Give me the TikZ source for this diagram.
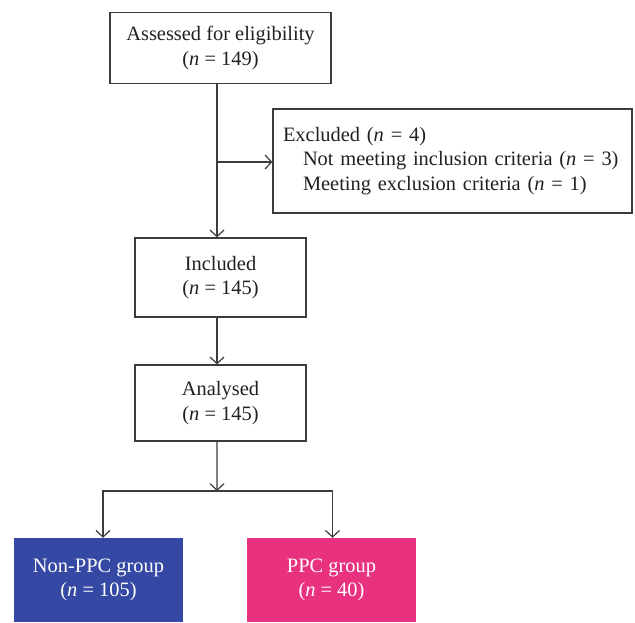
\documentclass[tikz,border=0pt]{standalone}
\usepackage{fontspec}
\setmainfont{Liberation Serif}
\usetikzlibrary{arrows.meta}
\definecolor{nonppc}{RGB}{53,72,163}
\definecolor{ppc}{RGB}{232,49,127}
\definecolor{linec}{RGB}{60,60,60}
\definecolor{textc}{RGB}{35,31,32}
\begin{document}
\begin{tikzpicture}[x=1bp,y=-1bp,
  every node/.style={font=\fontsize{20.5}{24.5}\selectfont, text=textc},
  box/.style={draw=linec, line width=1.2bp, inner sep=0pt, align=center},
  grp/.style={inner sep=0pt, align=center, text=white, minimum width=169bp, minimum height=84bp},
  arr/.style={draw=linec, line width=1.2bp, -{Straight Barb[length=6.5bp,width=14bp]}},
  ln/.style={draw=linec, line width=1.2bp}]
\useasboundingbox (0,0) rectangle (635,623);

\node[box, minimum width=221bp, minimum height=71bp] (assess) at (220.5,48)
  {Assessed for eligibility\\(\textit{n} = 149)};
\node[box, text width=339bp, inner xsep=10bp, minimum height=104bp, align=left] (excl) at (452.5,161)
  {Excluded (\textit{n} = 4)\\\hspace*{20bp}Not meeting inclusion criteria (\textit{n} = 3)\\\hspace*{20bp}Meeting exclusion criteria (\textit{n} = 1)};
\node[box, minimum width=171bp, minimum height=79bp] (incl) at (220.5,277.5)
  {Included\\(\textit{n} = 145)};
\node[box, minimum width=171bp, minimum height=76bp] (anal) at (220.5,403)
  {Analysed\\(\textit{n} = 145)};
\node[grp, fill=nonppc] (non) at (98.5,580) {Non-PPC group\\(\textit{n} = 105)};
\node[grp, fill=ppc] (ppcg) at (331.5,580) {PPC group\\(\textit{n} = 40)};

\coordinate (br) at (217,162);
\coordinate (split) at (217,491);

\draw[arr] ([xshift=-3.5bp]assess.south) -- ([xshift=-3.5bp]incl.north);
\draw[arr] (br) -- (br -| excl.west);
\draw[arr] ([xshift=-3.5bp]incl.south) -- ([xshift=-3.5bp]anal.north);
\draw[arr] ([xshift=-3.5bp]anal.south) -- (split);
\draw[arr] (split) -| ([xshift=4.5bp]non.north);
\draw[arr] (split) -| ([xshift=1bp]ppcg.north);
\end{tikzpicture}
\end{document}
